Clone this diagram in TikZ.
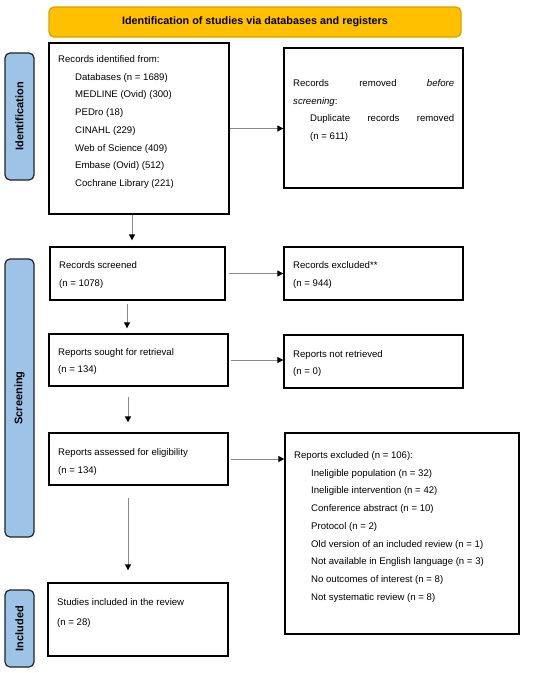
\documentclass[tikz,border=0pt]{standalone}
\usepackage{fontspec}
\setmainfont{Liberation Sans}
\usetikzlibrary{arrows.meta,calc}
\definecolor{bannerfill}{HTML}{FFC000}
\definecolor{bannerline}{HTML}{D9A300}
\definecolor{sidefill}{HTML}{9DC3E6}
\definecolor{sideline}{HTML}{222222}
\definecolor{conn}{HTML}{8A8A8A}
\newcommand\Ln[1]{\hbox{#1}}
\newcommand\Ind[1]{\hbox{\hspace*{17pt}#1}}
\begin{document}
\begin{tikzpicture}[x=1pt,y=-1pt,
  box/.style={draw=black,line width=1.3pt,fill=white,inner sep=0pt},
  side/.style={draw=sideline,fill=sidefill,line width=1.2pt,rounded corners=5pt,inner sep=0pt,minimum width=29pt},
  sidetext/.style={rotate=90,font=\fontsize{11}{13}\selectfont\bfseries},
  txt/.style={anchor=base west,inner sep=0pt,font=\fontsize{9.6}{17.7}\selectfont},
  arr/.style={draw=conn,line width=1pt,-{Triangle[length=6pt,width=6pt,color=black]}}]
\useasboundingbox (0,0) rectangle (550,673);

% banner
\node[draw=bannerline,fill=bannerfill,line width=1.3pt,rounded corners=5pt,minimum width=412pt,minimum height=30pt,inner sep=0pt,font=\fontsize{10.8}{13}\selectfont\bfseries] (banner) at (255,22) {Identification of studies via databases and registers};

% side labels
\node[side,minimum height=127pt] (sid) at (19.5,116.5) {};
\node[sidetext] (sidt) at (sid.center) {Identification};
\node[side,minimum height=278pt] (sscr) at (19.5,398) {};
\node[sidetext] (sscrt) at (sscr.center) {Screening};
\node[side,minimum height=77pt] (sinc) at (19.5,628.5) {};
\node[sidetext] (sinct) at (sinc.center) {Included};

% boxes
\node[box,minimum width=180pt,minimum height=171pt] (box1) at (139,128.5) {};
\node[box,minimum width=179pt,minimum height=140pt] (removed) at (373.5,118) {};
\node[box,minimum width=175pt,minimum height=53pt] (screened) at (137.5,273.5) {};
\node[box,minimum width=179pt,minimum height=53pt] (excluded) at (373.5,273.5) {};
\node[box,minimum width=179pt,minimum height=52pt] (sought) at (138.5,360) {};
\node[box,minimum width=179pt,minimum height=53pt] (notret) at (373.5,361.5) {};
\node[box,minimum width=179pt,minimum height=52pt] (assessed) at (138.5,459) {};
\node[box,minimum width=234pt,minimum height=201pt] (repexcl) at (402,533.5) {};
\node[box,minimum width=180pt,minimum height=73pt] (included) at (138,619.5) {};

% texts
\node[txt] (t1) at (58,62.5) {\vtop{\Ln{Records identified from:}
\Ind{Databases (n = 1689)}
\Ind{MEDLINE (Ovid) (300)}
\Ind{PEDro (18)}
\Ind{CINAHL (229)}
\Ind{Web of Science (409)}
\Ind{Embase (Ovid) (512)}
\Ind{Cochrane Library (221)}}};
\node[txt] (t2) at (293,86.5) {\vtop{\Ln{\makebox[161pt][s]{Records removed \textit{before}}}
\Ln{\textit{screening}:}
\Ind{\makebox[144pt][s]{Duplicate records removed}}
\Ind{(n = 611)}}};
\node[txt] (t3) at (59,268.5) {\vtop{\Ln{Records screened}\Ln{(n = 1078)}}};
\node[txt] (t4) at (293,268.5) {\vtop{\Ln{Records excluded**}\Ln{(n = 944)}}};
\node[txt] (t5) at (58,355) {\vtop{\Ln{Reports sought for retrieval}\Ln{(n = 134)}}};
\node[txt] (t6) at (293,357) {\vtop{\Ln{Reports not retrieved}\Ln{(n = 0)}}};
\node[txt] (t7) at (58,455.5) {\vtop{\Ln{Reports assessed for eligibility}\Ln{(n = 134)}}};
\node[txt] (t8) at (294,458.5) {\vtop{\Ln{Reports excluded (n = 106):}
\Ind{Ineligible population (n = 32)}
\Ind{Ineligible intervention (n = 42)}
\Ind{Conference abstract (n = 10)}
\Ind{Protocol (n = 2)}
\Ind{Old version of an included review (n = 1)}
\Ind{Not available in English language (n = 3)}
\Ind{No outcomes of interest (n = 8)}
\Ind{Not systematic review (n = 8)}}};
\node[txt,font=\fontsize{9.6}{20}\selectfont] (t9) at (57,605.5) {\vtop{\Ln{Studies included in the review}\Ln{(n = 28)}}};

% horizontal connectors
\draw[arr] (box1.east) -- (box1.east -| removed.west);
\draw[arr,shorten <=3pt] (screened.east) -- (screened.east -| excluded.west);
\draw[arr,shorten <=2pt] (sought.east) -- (sought.east -| notret.west);
\draw[arr,shorten <=2pt] (assessed.east) -- (assessed.east -| repexcl.west);

% vertical connectors
\draw[arr,shorten >=6pt] ([xshift=-7pt]box1.south) -- ([xshift=-7pt]box1.south |- screened.north);
\draw[arr,shorten <=3pt,shorten >=5pt] ([xshift=-10.5pt]screened.south) -- ([xshift=-10.5pt]screened.south |- sought.north);
\draw[arr,shorten <=10pt,shorten >=10pt] ([xshift=-10.5pt]sought.south) -- ([xshift=-10.5pt]sought.south |- assessed.north);
\draw[arr,shorten <=12pt,shorten >=12pt] ([xshift=-10.5pt]assessed.south) -- ([xshift=-10.5pt]assessed.south |- included.north);
\end{tikzpicture}
\end{document}
